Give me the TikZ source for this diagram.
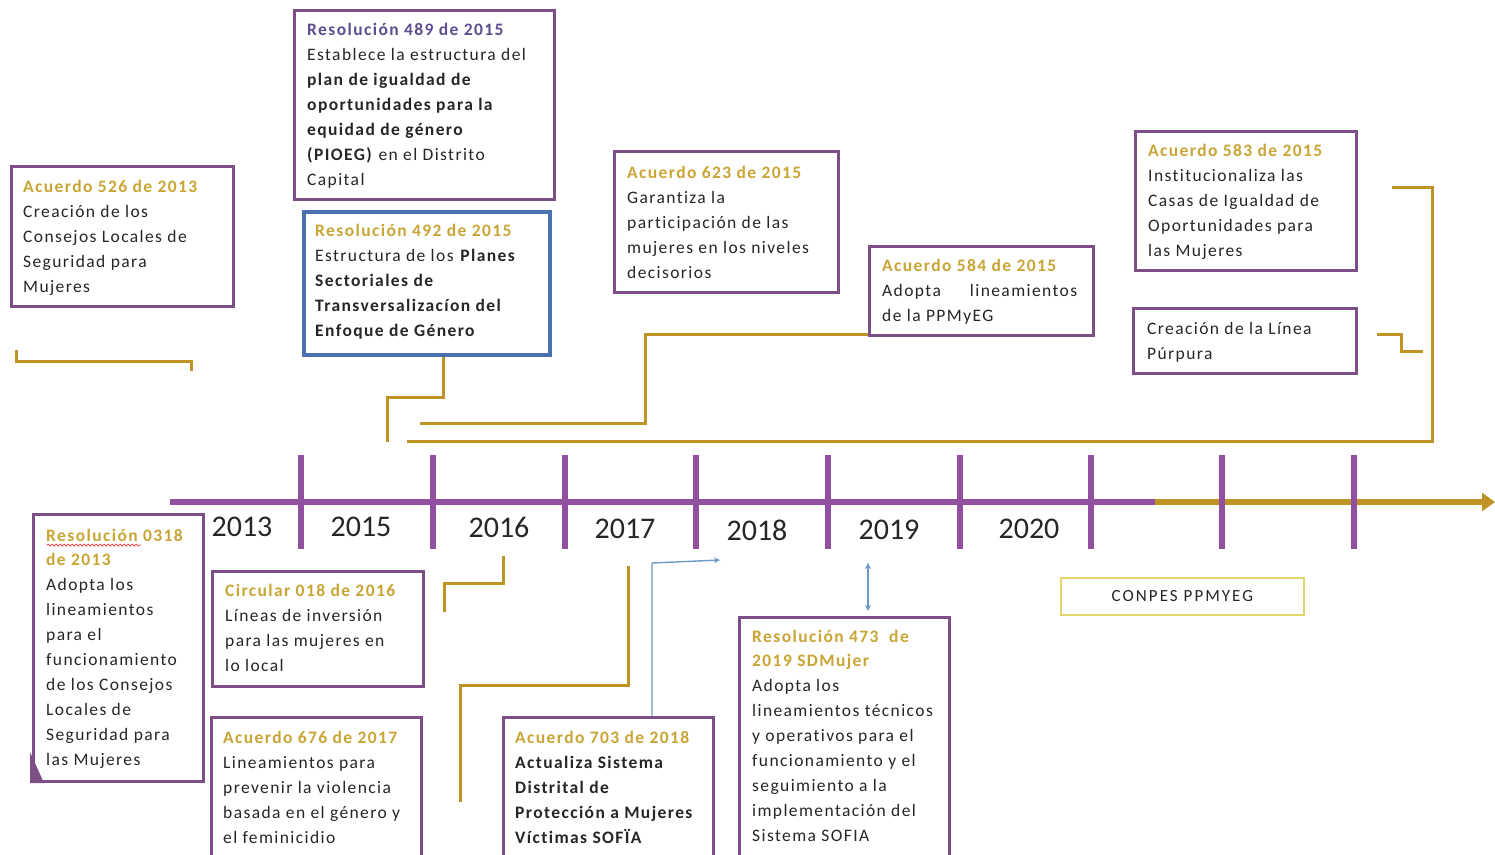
\documentclass[tikz,border=0pt]{standalone}
\usepackage{fontspec}
\setmainfont{Carlito}
\newfontfamily\boxfont{Carlito}[LetterSpace=8,Ligatures={NoCommon,NoRare}]
\newfontfamily\cpfont{Carlito}[LetterSpace=12]
\usetikzlibrary{arrows.meta,calc,decorations.pathmorphing}
\definecolor{boxpurple}{HTML}{7E4F86}
\definecolor{linepurple}{HTML}{9150A0}
\definecolor{goldline}{HTML}{BE9426}
\definecolor{goldtitle}{HTML}{C9A535}
\definecolor{slatetitle}{HTML}{5E4E90}
\definecolor{boxblue}{HTML}{4A70B0}
\definecolor{arrowblue}{HTML}{6D9BC5}
\definecolor{conpes}{HTML}{E3D66A}
\definecolor{bodytext}{HTML}{262626}
\newcommand{\ptxt}[2]{\parbox[t]{#1}{\raggedright\boxfont\fontsize{17.5}{25}\selectfont #2}}
\newcommand{\gt}[1]{\textbf{\color{goldtitle}#1}}
\tikzset{
  pbox/.style={draw=boxpurple, line width=2.6pt, anchor=north west, inner sep=0pt, fill=white},
  bbox/.style={draw=boxblue, line width=3.6pt, anchor=north west, inner sep=0pt, fill=white},
  cbox/.style={draw=conpes, line width=1.8pt, anchor=north west, inner sep=0pt, fill=white},
  txt/.style={anchor=base west, inner sep=0pt, text=bodytext},
  gline/.style={draw=goldline, line width=3pt},
  tick/.style={draw=linepurple, line width=6.5pt},
  year/.style={font=\fontsize{30}{30}\selectfont, text=black!85, inner sep=0pt},
  barrow/.style={draw=arrowblue, line width=1.4pt}
}
\begin{document}
\begin{tikzpicture}[x=1pt,y=-1pt]
\clip (0,0) rectangle (1495,854);
\fill[white] (0,0) rectangle (1495,854);

% ---------- timeline ----------
\coordinate (tl0) at (170,502);
\coordinate (tlm) at (1155,502);
\coordinate (tlend) at (1495,502);
\draw[linepurple, line width=6.5pt] (tl0) -- (tlm);
\draw[goldline, line width=6.5pt, -{Triangle[length=13pt,width=18pt]}] (tlm) -- (tlend);
\foreach \x/\n in {301/a,433/b,565/c,696/d,828/e,960/f,1091/g,1222/h,1354/i}{
  \coordinate (t\n1) at (\x,455);
  \coordinate (t\n2) at (\x,549);
  \draw[tick] (t\n1) -- (t\n2);
}
\node[year] (y13) at (242,527) {2013};
\node[year] (y15) at (361,527) {2015};
\node[year] (y16) at (499,527) {2016};
\node[year] (y17) at (625,529) {2017};
\node[year] (y18) at (757,530) {2018};
\node[year] (y19) at (889,530) {2019};
\node[year] (y20) at (1029,529) {2020};

% ---------- top boxes ----------
\node[pbox, minimum width=222, minimum height=140] (b526) at (10,165) {};
\node[txt] (t526) at (23,192) {\ptxt{205pt}{\gt{Acuerdo 526 de 2013}\\Creación de los\\Consejos Locales de\\Seguridad para\\Mujeres}};

\node[pbox, minimum width=260, minimum height=189] (b489) at (293,9) {};
\node[txt] (t489) at (307,35) {\ptxt{245pt}{\textbf{\color{slatetitle}Resolución 489 de 2015}\\Establece la estructura del\\\textbf{plan de igualdad de}\\\textbf{oportunidades para la}\\\textbf{equidad de género}\\\textbf{(PIOEG)} en el Distrito\\Capital}};

\node[bbox, minimum width=246, minimum height=143] (b492) at (302,210) {};
\node[txt] (t492) at (315,236) {\ptxt{232pt}{\gt{Resolución 492 de 2015}\\Estructura de los \textbf{Planes}\\\textbf{Sectoriales de}\\\textbf{Transversalizacíon del}\\\textbf{Enfoque de Género}}};

\node[pbox, minimum width=224, minimum height=141] (b623) at (613,150) {};
\node[txt] (t623) at (627,178) {\ptxt{208pt}{\gt{Acuerdo 623 de 2015}\\Garantiza la\\participación de las\\mujeres en los niveles\\decisorios}};

\node[pbox, minimum width=224, minimum height=89] (b584) at (868,245) {};
\node[txt] (t584) at (882,271) {\ptxt{195pt}{\gt{Acuerdo 584 de 2015}\\Adopta\hfill lineamientos\\de la PPMyEG}};

\node[pbox, minimum width=221, minimum height=139] (b583) at (1134,130) {};
\node[txt] (t583) at (1148,156) {\ptxt{205pt}{\gt{Acuerdo 583 de 2015}\\Institucionaliza las\\Casas de Igualdad de\\Oportunidades para\\las Mujeres}};

\node[pbox, minimum width=223, minimum height=65] (blp) at (1132,307) {};
\node[txt] (tlp) at (1147,334) {\ptxt{205pt}{Creación de la Línea\\Púrpura}};

% ---------- bottom boxes ----------
\node[pbox, minimum width=170, minimum height=267] (b318) at (32,513) {};
\coordinate (k1) at (30,752);
\coordinate (k2) at (30,783);
\coordinate (k3) at (44,783);
\fill[boxpurple] (k1) -- (k2) -- (k3) -- cycle;
\node[txt] (t318) at (46,541) {\ptxt{155pt}{\gt{Resolución 0318}\\[-1pt]\gt{de 2013}\\Adopta los\\lineamientos\\para el\\funcionamiento\\de los Consejos\\Locales de\\Seguridad para\\las Mujeres}};
\coordinate (w1) at (47,545);
\coordinate (w2) at (141,545);
\draw[red!80, line width=0.7pt, decorate, decoration={snake, amplitude=1pt, segment length=4pt}] (w1) -- (w2);

\node[pbox, minimum width=211, minimum height=115] (bc18) at (211,570) {};
\node[txt] (tc18) at (225,596) {\ptxt{195pt}{\gt{Circular 018 de 2016}\\Líneas de inversión\\para las mujeres en\\lo local}};

\node[pbox, minimum width=210, minimum height=160] (b676) at (210,716) {};
\node[txt] (t676) at (223,743) {\ptxt{196pt}{\gt{Acuerdo 676 de 2017}\\Lineamientos para\\prevenir la violencia\\basada en el género y\\el feminicidio}};

\node[pbox, minimum width=210, minimum height=160] (b703) at (502,716) {};
\node[txt] (t703) at (515,743) {\ptxt{196pt}{\gt{Acuerdo 703 de 2018}\\\textbf{Actualiza Sistema}\\\textbf{Distrital de}\\\textbf{Protección a Mujeres}\\\textbf{Víctimas SOFÏA}}};

\node[pbox, minimum width=210, minimum height=260] (b473) at (738,616) {};
\node[txt] (t473) at (752,642) {\ptxt{196pt}{\gt{Resolución 473\ \ de}\\[-1pt]\gt{2019 SDMujer}\\Adopta los\\lineamientos técnicos\\y operativos para el\\funcionamiento y el\\seguimiento a la\\implementación del\\Sistema SOFIA}};

\node[cbox, minimum width=243, minimum height=37] (bcp) at (1060,577) {};
\node[font=\cpfont\fontsize{17}{17}\selectfont, text=bodytext] (tcp) at (bcp.center) {CONPES PPMYEG};

% ---------- gold connectors (top) ----------
\coordinate (g1a) at (16,350);
\coordinate (g1b) at (191,371);
\draw[gline] (g1a) -- ++(0,11) -| (g1b);

\coordinate (g2m) at (387,397);
\coordinate (g2e) at (387,442);
\draw[gline] (b492.south -| 443,0) -- (443,397) -- (g2m) -- (g2e);

\coordinate (g3a) at (420,423);
\draw[gline] (g3a) -- (645,423) -- (645,334) -- (b584.west |- 0,334);

\coordinate (g4a) at (407,441);
\coordinate (g4c) at (1392,187);
\draw[gline] (g4a) -- (1432,441) |- (g4c);

\coordinate (g5a) at (1377,334);
\coordinate (g5b) at (1423,351);
\draw[gline] (g5a) -- (1401,334) |- (g5b);

% ---------- gold connectors (bottom) ----------
\coordinate (g6a) at (503,556);
\coordinate (g6b) at (444,612);
\draw[gline] (g6a) -- (503,583) -| (g6b);

\coordinate (g7a) at (628,566);
\coordinate (g7b) at (460,802);
\draw[gline] (g7a) -- (628,685) -| (g7b);

% ---------- blue arrows ----------
\coordinate (ba) at (720,560);
\draw[barrow, -{Stealth[length=6pt,width=6pt]}] (b703.north -| 652,0) -- (652,563) -- (ba);
\coordinate (bd1) at (868,563);
\coordinate (bd2) at (868,611);
\draw[barrow, {Stealth[length=6pt,width=6pt]}-{Stealth[length=6pt,width=6pt]}] (bd1) -- (bd2);
\end{tikzpicture}
\end{document}
